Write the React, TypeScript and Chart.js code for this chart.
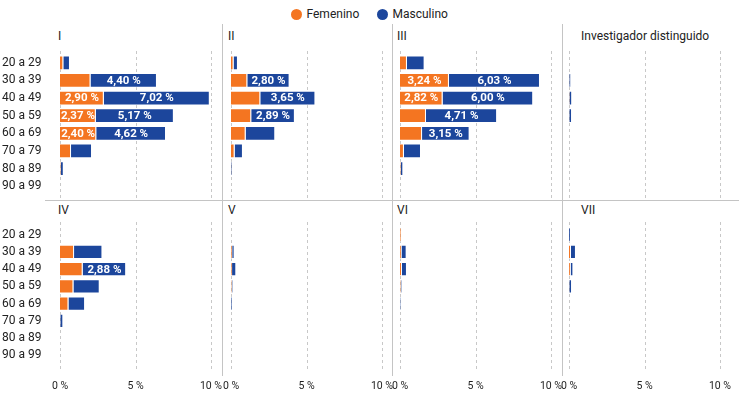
import React, { useEffect, useRef } from "react";
import { Chart, registerables } from "chart.js";

Chart.register(...registerables);

// ---------- data ----------
const AGE_GROUPS = ["20 a 29", "30 a 39", "40 a 49", "50 a 59", "60 a 69", "70 a 79", "80 a 89", "90 a 99"];
const SERIES_NAMES = ["Femenino", "Masculino"];
const PANEL_TITLES = ["I", "II", "III", "Investigador distinguido", "IV", "V", "VI", "VII"];
const X_TICKS = [0, 5, 10];
const LABEL_THRESHOLD = 2.2;

const FEM_I = [0.22, 2.02, 2.9, 2.37, 2.4, 0.73, 0.05, 0];
const MAS_I = [0.44, 4.4, 7.02, 5.17, 4.62, 1.39, 0.2, 0];
const FEM_II = [0.17, 1.08, 1.94, 1.34, 0.97, 0.24, 0.02, 0];
const MAS_II = [0.29, 2.8, 3.65, 2.89, 1.96, 0.55, 0.08, 0];
const FEM_III = [0.46, 3.24, 2.82, 1.72, 1.46, 0.26, 0.05, 0];
const MAS_III = [1.17, 6.03, 6.0, 4.71, 3.15, 1.13, 0.17, 0];
const FEM_DIST = [0, 0.02, 0.03, 0.02, 0, 0, 0, 0];
const MAS_DIST = [0, 0.12, 0.18, 0.18, 0, 0, 0, 0];
const FEM_IV = [0, 0.93, 1.5, 0.89, 0.56, 0.02, 0, 0];
const MAS_IV = [0, 1.88, 2.88, 1.74, 1.1, 0.2, 0, 0];
const FEM_V = [0, 0.08, 0.07, 0.05, 0, 0, 0, 0];
const MAS_V = [0, 0.16, 0.28, 0.08, 0.07, 0, 0, 0];
const FEM_VI = [0.07, 0.1, 0.13, 0.05, 0, 0, 0, 0];
const MAS_VI = [0, 0.34, 0.33, 0.08, 0.05, 0, 0, 0];
const FEM_VII = [0, 0.13, 0.11, 0.02, 0, 0, 0, 0];
const MAS_VII = [0.11, 0.33, 0.18, 0.18, 0, 0, 0, 0];

const PANEL_DATA = [
  [FEM_I, MAS_I],
  [FEM_II, MAS_II],
  [FEM_III, MAS_III],
  [FEM_DIST, MAS_DIST],
  [FEM_IV, MAS_IV],
  [FEM_V, MAS_V],
  [FEM_VI, MAS_VI],
  [FEM_VII, MAS_VII],
];

// ---------- styles / layout ----------
const ORANGE = "#F47521";
const BLUE = "#1C469C";
const TEXT = "#222222";
const GRID = "#c8c8c8";
const SEP = "#c4c4c4";
const FONT = "Roboto, 'DejaVu Sans', sans-serif";

const COL_ZERO = [60, 231, 400, 569];
const PLOT_W = 151;
const SIDE_PAD = 16;
const Y_LABEL_LEFT = 2;
const Y_AXIS_W = 58;
const ROWS = [
  { top: 54, height: 141, extTop: 3, extBottom: 5, showX: false, titleY: 36 },
  { top: 226, height: 138, extTop: 4, extBottom: 6, showX: true, titleY: 210 },
];
const X_AXIS_H = 30;
const TITLE_X = [58, 228, 397, 581];

const fmt = (v: number) => v.toFixed(2).replace(".", ",") + " %";

const extGridPlugin = {
  id: "extGrid",
  beforeDatasetsDraw(chart: any, _args: any, opts: any) {
    const { ctx, chartArea } = chart;
    const xs = chart.scales.x;
    ctx.save();
    ctx.strokeStyle = GRID;
    ctx.lineWidth = 1;
    ctx.setLineDash([3, 3]);
    X_TICKS.forEach((t) => {
      const px = Math.round(xs.getPixelForValue(t)) + 0.5;
      ctx.beginPath();
      ctx.moveTo(px, chartArea.top - (opts.top || 0));
      ctx.lineTo(px, chartArea.bottom + (opts.bottom || 0));
      ctx.stroke();
    });
    ctx.restore();
  },
};

const valueLabelPlugin = {
  id: "valueLabels",
  afterDatasetsDraw(chart: any) {
    const { ctx } = chart;
    ctx.save();
    ctx.fillStyle = "#ffffff";
    ctx.font = `bold 11.5px ${FONT}`;
    ctx.textAlign = "center";
    ctx.textBaseline = "middle";
    chart.data.datasets.forEach((ds: any, i: number) => {
      const meta = chart.getDatasetMeta(i);
      meta.data.forEach((el: any, j: number) => {
        const v = ds.data[j];
        if (v >= LABEL_THRESHOLD) {
          const p = el.getProps(["x", "y", "base"], true);
          ctx.fillText(fmt(v), (p.x + p.base) / 2, p.y + 0.5);
        }
      });
    });
    ctx.restore();
  },
};

function Panel({ index }: { index: number }) {
  const ref = useRef<HTMLCanvasElement>(null);
  const col = index % 4;
  const rowIdx = Math.floor(index / 4);
  const row = ROWS[rowIdx];
  const showY = col === 0;
  const padLeft = showY ? Y_LABEL_LEFT : SIDE_PAD;
  const left = showY ? 0 : COL_ZERO[col] - SIDE_PAD;
  const width = (showY ? COL_ZERO[0] : SIDE_PAD) + PLOT_W + SIDE_PAD;
  const top = row.top - 10;
  const height = 10 + row.height + (row.showX ? X_AXIS_H : 10);

  useEffect(() => {
    const [fem, mas] = PANEL_DATA[index];
    const chart = new Chart(ref.current as HTMLCanvasElement, {
      type: "bar",
      data: {
        labels: AGE_GROUPS,
        datasets: [
          {
            label: SERIES_NAMES[0],
            data: fem,
            backgroundColor: ORANGE,
            borderColor: "rgba(255,255,255,0.45)",
            borderWidth: 1,
            barPercentage: 0.84,
            categoryPercentage: 1,
          },
          {
            label: SERIES_NAMES[1],
            data: mas,
            backgroundColor: BLUE,
            borderColor: "rgba(255,255,255,0.45)",
            borderWidth: 1,
            barPercentage: 0.84,
            categoryPercentage: 1,
          },
        ],
      },
      options: {
        indexAxis: "y",
        responsive: false,
        animation: false,
        devicePixelRatio: 1,
        layout: {
          padding: { left: padLeft, right: SIDE_PAD, top: 10, bottom: row.showX ? 0 : 10 },
        },
        plugins: {
          legend: { display: false },
          tooltip: { enabled: false },
          title: { display: false },
          extGrid: { top: row.extTop, bottom: row.extBottom },
        } as any,
        scales: {
          x: {
            stacked: true,
            min: 0,
            max: 10,
            display: row.showX,
            grid: { display: false, drawTicks: true, tickLength: 16 },
            border: { display: false },
            afterFit: (s: any) => {
              if (row.showX) s.height = X_AXIS_H;
            },
            ticks: {
              stepSize: 5,
              padding: 0,
              color: TEXT,
              font: { family: FONT, size: 10.5 },
              maxRotation: 0,
              autoSkip: false,
              callback: (v: any) => `${v} %`,
            },
          },
          y: {
            stacked: true,
            display: showY,
            grid: { display: false, drawTicks: false },
            border: { display: false },
            afterFit: (s: any) => {
              if (showY) s.width = Y_AXIS_W;
            },
            ticks: {
              padding: 0,
              crossAlign: "far",
              color: TEXT,
              autoSkip: false,
              font: { family: FONT, size: 12 },
            },
          },
        },
      },
      plugins: [extGridPlugin, valueLabelPlugin],
    });
    return () => chart.destroy();
  }, [index]);

  return (
    <canvas
      ref={ref}
      width={width}
      height={height}
      style={{ position: "absolute", left, top, width, height }}
    />
  );
}

export default function App() {
  const textStyle: React.CSSProperties = {
    position: "absolute",
    fontFamily: FONT,
    fontSize: 12,
    lineHeight: "14px",
    color: TEXT,
    whiteSpace: "nowrap",
  };
  return (
    <div
      style={{
        position: "absolute",
        left: 0,
        top: 0,
        width: 748,
        height: 395,
        background: "#ffffff",
        overflow: "hidden",
      }}
    >
      {/* legend */}
      <div style={{ position: "absolute", left: 290.5, top: 9, width: 11, height: 11, borderRadius: "50%", background: ORANGE }} />
      <div style={{ ...textStyle, left: 306.5, top: 7 }}>{SERIES_NAMES[0]}</div>
      <div style={{ position: "absolute", left: 377, top: 9, width: 11, height: 11, borderRadius: "50%", background: BLUE }} />
      <div style={{ ...textStyle, left: 392.5, top: 7 }}>{SERIES_NAMES[1]}</div>

      {/* separators */}
      {[222, 392, 562].map((x) => (
        <div key={x} style={{ position: "absolute", left: x, top: 24, width: 1, height: 352, background: SEP }} />
      ))}
      <div style={{ position: "absolute", left: 45, top: 200, width: 694, height: 1, background: SEP }} />

      {/* panel titles */}
      {PANEL_TITLES.map((t, i) => (
        <div
          key={t}
          style={{ ...textStyle, left: TITLE_X[i % 4], top: ROWS[Math.floor(i / 4)].titleY - 7 }}
        >
          {t}
        </div>
      ))}

      {PANEL_TITLES.map((_, i) => (
        <Panel key={i} index={i} />
      ))}
    </div>
  );
}
